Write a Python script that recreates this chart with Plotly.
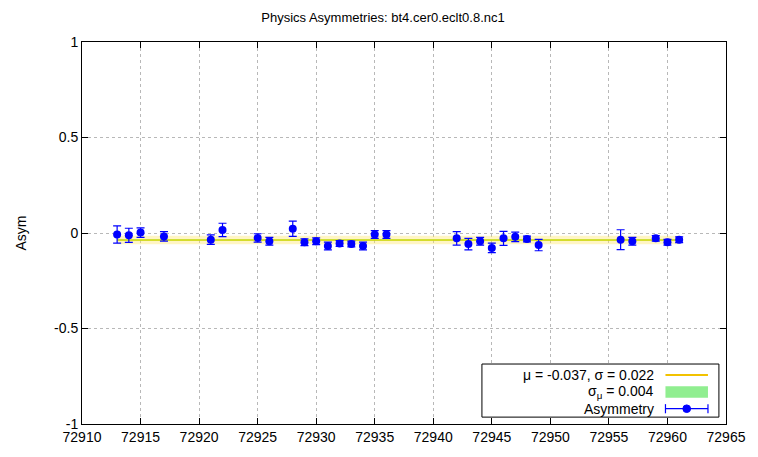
import plotly.graph_objects as go

runs = [72913, 72914, 72915, 72917, 72921, 72922, 72925, 72926, 72928, 72929,
        72930, 72931, 72932, 72933, 72934, 72935, 72936, 72942, 72943, 72944,
        72945, 72946, 72947, 72948, 72949, 72956, 72957, 72959, 72960, 72961]
asym = [-0.008, -0.012, 0.002, -0.018, -0.035, 0.016, -0.026, -0.043, 0.022, -0.048,
        -0.043, -0.068, -0.055, -0.058, -0.068, -0.008, -0.008, -0.028, -0.058, -0.043,
        -0.078, -0.028, -0.020, -0.031, -0.063, -0.035, -0.043, -0.028, -0.048, -0.035]
asym_err = [0.045, 0.037, 0.025, 0.025, 0.025, 0.035, 0.022, 0.02, 0.04, 0.018,
            0.018, 0.02, 0.015, 0.015, 0.02, 0.02, 0.02, 0.035, 0.03, 0.02,
            0.025, 0.037, 0.025, 0.015, 0.03, 0.052, 0.02, 0.015, 0.015, 0.015]
mu = -0.037
sigma = 0.022
sigma_mu = 0.004
x_ticks = list(range(72910, 72966, 5))
y_ticks = [-1, -0.5, 0, 0.5, 1]

FONT = "Liberation Sans, Arial, sans-serif"
x0, x1 = min(runs), max(runs)

fig = go.Figure()
# sigma band
fig.add_trace(go.Scatter(x=[x0, x1, x1, x0, x0],
                         y=[mu - sigma, mu - sigma, mu + sigma, mu + sigma, mu - sigma],
                         fill="toself", fillcolor="rgba(255,228,100,0.38)",
                         line=dict(width=0), mode="lines", hoverinfo="skip", showlegend=False))
# sigma_mu band
fig.add_trace(go.Scatter(x=[x0, x1, x1, x0, x0],
                         y=[mu - sigma_mu, mu - sigma_mu, mu + sigma_mu, mu + sigma_mu, mu - sigma_mu],
                         fill="toself", fillcolor="rgba(150,230,40,0.85)",
                         line=dict(width=0), mode="lines", hoverinfo="skip", showlegend=False))
# mean line
fig.add_trace(go.Scatter(x=[x0, x1], y=[mu, mu], mode="lines",
                         line=dict(color="#e8d000", width=1), showlegend=False))
# data
fig.add_trace(go.Scatter(x=runs, y=asym, mode="markers",
                         marker=dict(color="#0000ff", size=8),
                         error_y=dict(type="data", array=asym_err, color="#0000ff",
                                      thickness=1.2, width=4),
                         showlegend=False))

# manual legend (gnuplot style)
shapes = [dict(type="rect", xref="paper", yref="paper", x0=0.621, x1=0.989, y0=0.018, y1=0.157,
               line=dict(color="black", width=1), fillcolor="white", layer="above")]
row_y = [0.128, 0.084, 0.040]
sx0, sx1 = 0.906, 0.972
shapes.append(dict(type="line", xref="paper", yref="paper", x0=sx0, x1=sx1, y0=row_y[0], y1=row_y[0],
                   line=dict(color="#f2c200", width=2), layer="above"))
shapes.append(dict(type="rect", xref="paper", yref="paper", x0=sx0, x1=sx1, y0=row_y[1] - 0.015,
                   y1=row_y[1] + 0.015, line=dict(width=0), fillcolor="#90ee90", layer="above"))
shapes.append(dict(type="line", xref="paper", yref="paper", x0=sx0, x1=sx1, y0=row_y[2], y1=row_y[2],
                   line=dict(color="#0000ff", width=1.2), layer="above"))
for xx in (sx0, sx1):
    shapes.append(dict(type="line", xref="paper", yref="paper", x0=xx, x1=xx,
                       y0=row_y[2] - 0.012, y1=row_y[2] + 0.012,
                       line=dict(color="#0000ff", width=1.2), layer="above"))
shapes.append(dict(type="circle", xref="paper", yref="paper",
                   x0=(sx0 + sx1) / 2 - 0.006, x1=(sx0 + sx1) / 2 + 0.006,
                   y0=row_y[2] - 0.010, y1=row_y[2] + 0.010,
                   line=dict(color="#0000ff", width=1), fillcolor="#0000ff", layer="above"))

labels = [f"μ = {mu}, σ = {sigma}", f"σ<sub>μ</sub> = {sigma_mu}", "Asymmetry"]
annotations = []
for lab, yy in zip(labels, row_y):
    annotations.append(dict(x=0.891, y=yy, xref="paper", yref="paper", text=lab, showarrow=False,
                            xanchor="right", yanchor="middle", font=dict(family=FONT, size=14, color="black")))

fig.update_layout(
    width=750, height=449,
    margin=dict(l=70, r=21, t=34, b=32),
    plot_bgcolor="white", paper_bgcolor="white",
    title=dict(text="Physics Asymmetries: bt4.cer0.eclt0.8.nc1", x=0.5, xanchor="center",
               y=0.988, yanchor="top", font=dict(family=FONT, size=13, color="black")),
    font=dict(family=FONT, size=14, color="black"),
    shapes=shapes, annotations=annotations,
    xaxis=dict(range=[72910, 72965], tickvals=x_ticks, ticktext=[str(v) for v in x_ticks],
               showgrid=True, gridcolor="#b8b8b8", griddash="dot", gridwidth=1,
               ticks="inside", ticklen=6, tickcolor="black", mirror="ticks",
               showline=True, linecolor="black", linewidth=1, zeroline=False,
               tickfont=dict(family=FONT, size=14)),
    yaxis=dict(range=[-1, 1], tickvals=y_ticks, ticktext=["-1", "-0.5", "0", "0.5", "1"],
               showgrid=True, gridcolor="#b8b8b8", griddash="dot", gridwidth=1,
               ticks="inside", ticklen=6, tickcolor="black", mirror="ticks",
               showline=True, linecolor="black", linewidth=1, zeroline=False,
               title=dict(text="Asym", font=dict(family=FONT, size=14), standoff=24),
               tickfont=dict(family=FONT, size=14)),
)

fig.write_html("out.html")
